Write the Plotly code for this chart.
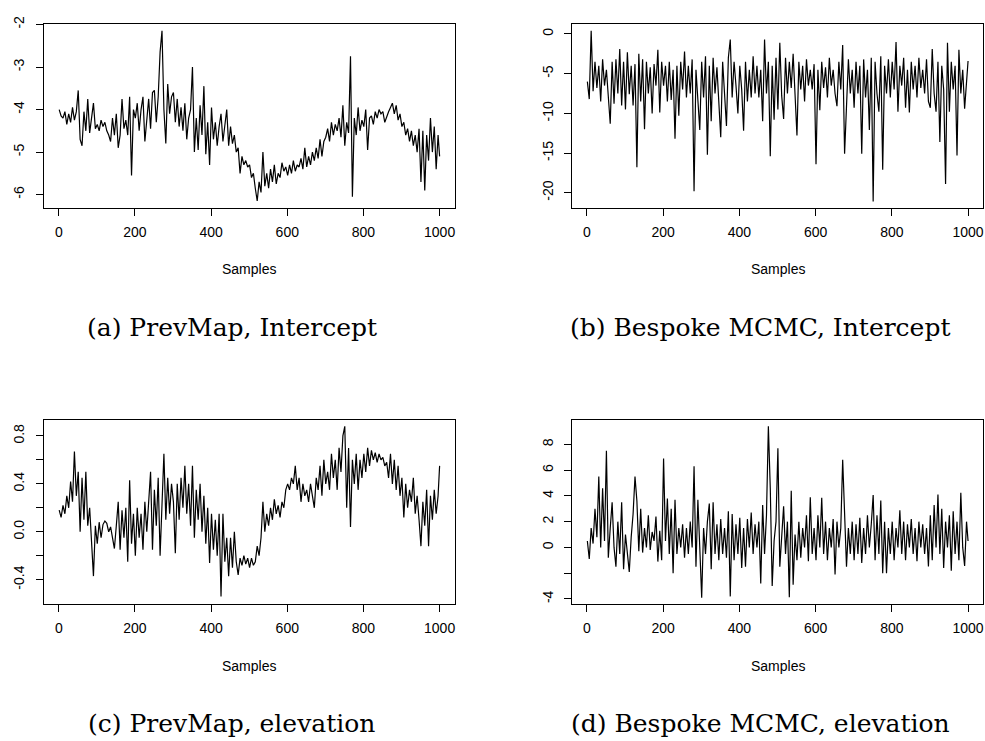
import plotly.graph_objects as go

# ---------------- data (every 5th sample) ----------------
sample_idx = list(range(1, 1000, 5)) + [1000]

prevmap_intercept = [
    -4.0, -4.15, -4.2, -4.05, -4.35, -4.1, -4.3, -3.95, -4.25, -4.05,
    -3.55, -4.7, -4.85, -4.05, -4.5, -3.75, -4.55, -4.2, -3.85, -4.45,
    -4.35, -4.5, -4.25, -4.4, -4.3, -4.5, -4.6, -4.75, -4.2, -4.6,
    -4.1, -4.9, -4.6, -3.75, -4.45, -4.25, -4.6, -3.7, -5.55, -4.0,
    -4.2, -3.85, -4.5, -4.0, -3.7, -4.75, -4.15, -3.75, -4.45, -3.6,
    -3.55, -4.3, -3.7, -2.65, -2.15, -4.0, -4.8, -3.4, -4.1, -3.7,
    -3.6, -4.3, -3.75, -4.4, -3.95, -4.5, -3.85, -4.7, -4.2, -4.0,
    -3.0, -5.0, -4.2, -4.95, -3.9, -4.6, -3.45, -5.05, -4.3, -5.3,
    -3.95, -4.7, -4.3, -4.85, -4.4, -4.1, -4.75, -4.4, -4.0, -4.85,
    -4.4, -4.8, -4.6, -5.0, -4.9, -5.5, -5.1, -5.3, -5.2, -5.35,
    -5.3, -5.6, -5.5, -5.85, -6.15, -5.7, -5.95, -5.0, -5.8, -5.5,
    -5.85, -5.4, -5.7, -5.3, -5.75, -5.5, -5.6, -5.25, -5.45, -5.35,
    -5.55, -5.3, -5.5, -5.2, -5.45, -5.3, -5.35, -5.15, -5.4, -4.9,
    -5.35, -5.1, -5.3, -5.0, -5.2, -4.9, -5.15, -4.7, -5.1, -4.75,
    -4.65, -4.45, -4.75, -4.3, -4.6, -4.35, -4.5, -4.2, -4.65, -3.9,
    -4.85, -4.3, -4.55, -2.75, -6.05, -4.2, -4.6, -3.95, -4.5, -4.25,
    -4.4, -4.0, -4.95, -4.2, -4.15, -4.35, -4.05, -4.2, -4.0, -4.1,
    -4.05, -4.3, -4.15, -4.05, -3.95, -3.85, -4.1, -3.9, -4.25, -4.1,
    -4.4, -4.3, -4.6, -4.45, -4.75, -4.5, -4.85, -4.6, -5.0, -4.45,
    -5.7, -4.5, -5.9, -4.6, -5.2, -4.2, -5.0, -4.4, -5.4, -4.6,
    -5.1,
]

bespoke_intercept = [
    -6.0, -8.2, 0.4, -7.2, -3.5, -6.8, -4.0, -8.5, -3.2, -6.5,
    -4.5, -7.8, -11.3, -3.5, -8.8, -3.2, -7.5, -1.9, -9.0, -3.5,
    -9.5, -2.3, -7.6, -4.0, -9.0, -3.8, -16.8, -2.5, -8.5, -3.2,
    -12.0, -3.5, -7.5, -4.2, -10.0, -3.8, -6.5, -2.0, -9.9, -3.5,
    -6.5, -4.0, -8.5, -3.5, -8.3, -4.5, -13.2, -4.0, -10.3, -3.5,
    -7.0, -2.2, -8.0, -4.0, -7.5, -3.2, -19.8, -4.5, -9.0, -12.1,
    -3.5, -8.0, -2.8, -15.2, -4.0, -11.0, -3.0, -7.5, -4.2, -9.0,
    -13.0, -3.5, -7.0, -11.6, -3.0, -0.7, -8.0, -3.5, -6.5, -10.0,
    -4.0, -7.0, -12.2, -3.5, -8.5, -4.5, -8.0, -2.8, -7.5, -4.0,
    -8.0, -4.5, -11.0, -0.7, -7.5, -3.5, -15.4, -4.0, -10.8, -3.0,
    -9.5, -1.1, -7.8, -10.7, -3.0, -7.5, -3.5, -6.8, -2.5, -8.0,
    -12.8, -3.5, -7.0, -4.0, -8.5, -3.2, -6.5, -4.5, -7.0, -3.8,
    -16.4, -4.5, -9.6, -3.5, -6.8, -4.2, -8.0, -3.0, -6.5, -4.5,
    -7.5, -9.1, -3.5, -7.0, -1.4, -15.1, -9.5, -3.2, -7.5, -4.5,
    -9.3, -3.5, -7.5, -4.0, -15.1, -3.2, -8.0, -4.5, -12.1, -3.0,
    -21.1, -3.5, -7.5, -9.8, -2.8, -17.1, -4.0, -7.5, -3.2, -8.0,
    -3.5, -7.0, -1.0, -9.8, -4.0, -6.5, -3.0, -9.3, -4.5, -9.9,
    -3.5, -7.0, -4.0, -8.0, -3.0, -6.8, -4.5, -7.5, -3.2, -8.5,
    -9.3, -1.9, -7.5, -9.8, -3.5, -13.6, -4.0, -7.0, -18.9, -1.1,
    -9.8, -3.5, -7.0, -4.0, -15.3, -2.0, -7.5, -4.5, -9.4, -6.0,
    -3.4,
]

prevmap_elevation = [
    0.18, 0.12, 0.22, 0.15, 0.3, 0.2, 0.42, 0.25, 0.67, 0.3,
    0.5, 0.0, 0.45, 0.1, 0.5, 0.05, 0.2, -0.08, -0.37, 0.05,
    -0.1, 0.08, -0.05, 0.06, 0.09, 0.07, 0.0, 0.04, -0.05, -0.14,
    0.05, 0.25, -0.15, 0.18, -0.05, 0.2, -0.25, 0.43, -0.1, 0.15,
    -0.2, 0.2, -0.05, 0.15, -0.15, 0.25, 0.0, 0.3, 0.5, -0.15,
    0.35, 0.05, 0.45, -0.2, 0.3, 0.65, 0.1, 0.45, 0.15, 0.4,
    0.25, -0.18, 0.4, 0.1, 0.45, 0.2, 0.55, 0.15, 0.4, 0.05,
    0.55, -0.05, 0.35, 0.1, 0.4, 0.0, 0.3, -0.1, 0.2, -0.26,
    0.15, -0.15, 0.1, -0.2, 0.15, -0.54, 0.15, -0.25, -0.05, -0.37,
    -0.05, -0.3, 0.0, -0.25, -0.36, -0.22, -0.28, -0.2, -0.27, -0.22,
    -0.3, -0.22, -0.28, -0.25, -0.12, -0.2, -0.05, 0.25, 0.0, 0.15,
    0.05, 0.2, 0.1, 0.27, 0.15, 0.22, 0.12, 0.25, 0.2, 0.35,
    0.4, 0.35, 0.45, 0.4, 0.55, 0.35, 0.45, 0.25, 0.4, 0.3,
    0.35, 0.25, 0.4, 0.3, 0.2, 0.45, 0.35, 0.55, 0.3, 0.6,
    0.4, 0.5, 0.35, 0.65, 0.45, 0.6, 0.35, 0.7, 0.5, 0.8,
    0.88, 0.2, 0.7, 0.04, 0.6, 0.4, 0.65, 0.35, 0.6, 0.45,
    0.65, 0.5, 0.7, 0.55, 0.68, 0.6, 0.66, 0.58, 0.65, 0.6,
    0.62, 0.55, 0.58, 0.45, 0.65, 0.4, 0.6, 0.35, 0.55, 0.3,
    0.45, 0.12, 0.4, 0.2, 0.35, 0.25, 0.45, 0.15, 0.3, 0.1,
    -0.12, 0.25, 0.05, 0.35, -0.12, 0.3, 0.1, 0.35, 0.15, 0.3,
    0.55,
]

bespoke_elevation = [
    0.5, -0.9, 1.5, 0.3, 3.0, 0.8, 5.5, 0.0, 4.6, 0.5,
    7.5, -0.8, 1.5, 3.5, 0.0, -1.5, 2.0, -0.5, 3.5, -1.7,
    1.0, -0.3, -1.9, 0.8, 2.6, 5.5, 3.6, -0.3, 3.0, -0.4,
    1.5, 0.0, 2.5, -0.2, 1.2, 0.5, 2.4, -1.1, 1.3, -1.0,
    6.9, 0.5, 3.8, -0.5, 3.0, -2.0, 3.7, -0.5, 1.5, 0.0,
    1.8, -0.8, 1.5, -0.5, 2.0, 0.0, 6.3, -1.5, 3.7, 0.0,
    -3.9, 1.5, -0.5, 2.0, 3.4, -1.7, 3.5, -0.5, 1.8, -1.0,
    2.2, -0.5, 1.5, -0.8, 2.8, -3.8, 2.6, -1.0, 1.8, -0.5,
    2.3, -1.6, 1.5, -1.5, 2.2, 0.0, 2.7, -0.5, 1.8, 0.0,
    2.0, -2.8, 3.3, -0.5, 2.5, 9.4, 4.6, -3.0, 0.5, 2.0,
    7.7, -1.5, 1.0, 3.2, -0.5, 2.0, -3.86, 4.4, -2.9, 1.0,
    -1.0, 2.0, -0.8, 1.5, 0.0, 2.5, -1.08, 3.9, -0.5, 1.5,
    -1.0, 2.5, 0.0, 3.86, -0.5, 2.0, -1.0, 1.5, 0.0, 2.2,
    -2.1, 2.0, 0.0, 1.5, 6.8, 2.2, -1.5, 1.5, -0.5, 2.0,
    -1.0, 1.8, -0.5, 2.3, -1.2, 1.5, -0.5, 2.5, 0.0, 1.8,
    4.06, -1.0, 2.5, -0.5, 3.65, -2.0, 2.0, -2.0, 1.5, -0.5,
    2.0, -1.0, 1.5, 0.0, 2.88, -0.5, 2.0, -1.0, 1.8, 0.0,
    2.2, -0.5, 1.5, -1.08, 2.0, 0.0, 1.8, -0.5, 1.5, -1.47,
    2.5, -1.0, 3.3, 0.0, 4.1, -0.5, 3.0, -1.6, 2.0, 0.0,
    2.5, -1.8, 2.8, -0.5, 2.0, -1.0, 4.24, 0.0, -1.44, 2.0,
    0.5,
]

x_ticks = [0, 200, 400, 600, 800, 1000]
a_ticks = [-6, -5, -4, -3, -2]
a_labels = ["-6", "-5", "-4", "-3", "-2"]
b_ticks = [-20, -15, -10, -5, 0]
b_labels = ["-20", "-15", "-10", "-5", "0"]
c_ticks = [-0.4, -0.2, 0.0, 0.2, 0.4, 0.6, 0.8]
c_labels = ["-0.4", "", "0.0", "", "0.4", "", "0.8"]
d_ticks = [-4, -2, 0, 2, 4, 6, 8]
d_labels = ["-4", "", "0", "2", "4", "6", "8"]

captions = ["(a) PrevMap, Intercept", "(b) Bespoke MCMC, Intercept",
            "(c) PrevMap, elevation", "(d) Bespoke MCMC, elevation"]
x_label = "Samples"

# ---------------- figure ----------------
W, H = 985, 741
fig = go.Figure()

panels = [
    dict(y=prevmap_intercept, yr=[-6.31, -1.985], tv=a_ticks, tt=a_labels,
         xpx=(44, 455.3), ypx=(16, 202)),
    dict(y=bespoke_intercept, yr=[-21.9, 1.28], tv=b_ticks, tt=b_labels,
         xpx=(572.7, 984.3), ypx=(16, 202)),
    dict(y=prevmap_elevation, yr=[-0.607, 0.937], tv=c_ticks, tt=c_labels,
         xpx=(44, 455.3), ypx=(416, 603)),
    dict(y=bespoke_elevation, yr=[-4.43, 9.93], tv=d_ticks, tt=d_labels,
         xpx=(572.7, 984.3), ypx=(416, 603)),
]

tick_font = dict(family="Liberation Sans, Arial, sans-serif", size=14, color="black")
annotations = []
for i, p in enumerate(panels):
    n = "" if i == 0 else str(i + 1)
    fig.add_trace(go.Scatter(
        x=sample_idx, y=p["y"], mode="lines",
        line=dict(color="black", width=1.2),
        xaxis="x" + n, yaxis="y" + n, showlegend=False, hoverinfo="skip"))
    xd = [p["xpx"][0] / W, min(p["xpx"][1] / W, 0.9995)]
    yd = [1 - p["ypx"][1] / H, 1 - p["ypx"][0] / H]
    fig.layout["xaxis" + n] = dict(
        domain=xd, range=[-39, 1040], anchor="y" + n,
        tickvals=x_ticks, ticktext=[str(v) for v in x_ticks],
        ticks="outside", ticklen=7, tickcolor="black", tickwidth=1,
        showline=True, linecolor="black", linewidth=1, mirror=True,
        showgrid=False, zeroline=False, tickfont=tick_font,
        ticklabelstandoff=4)
    fig.layout["yaxis" + n] = dict(
        domain=yd, range=p["yr"], anchor="x" + n,
        tickvals=p["tv"], ticktext=p["tt"], tickangle=-90,
        ticks="outside", ticklen=7, tickcolor="black", tickwidth=1,
        showline=True, linecolor="black", linewidth=1, mirror=True,
        showgrid=False, zeroline=False, tickfont=tick_font,
        ticklabelstandoff=6)
    # "Samples" label
    annotations.append(dict(
        text=x_label, x=(xd[0] + xd[1]) / 2, xref="paper",
        y=1 - (p["ypx"][1] + 62) / H, yref="paper",
        xanchor="center", yanchor="middle", showarrow=False,
        font=dict(family="Liberation Sans, Arial, sans-serif", size=14, color="black")))
    # caption
    cap_x = 232 if i % 2 == 0 else 761
    cap_y = 323 if i < 2 else 723
    annotations.append(dict(
        text=captions[i], x=cap_x / W, xref="paper", y=1 - cap_y / H, yref="paper",
        xanchor="center", yanchor="middle", showarrow=False,
        font=dict(family="DejaVu Serif, serif", size=25, color="black")))

fig.update_layout(
    width=W, height=H, margin=dict(l=0, r=0, t=0, b=0),
    paper_bgcolor="white", plot_bgcolor="white",
    annotations=annotations, showlegend=False)

fig.write_html(
    "out.html",
    config={"displayModeBar": False},
    post_script="document.body.style.margin='0px';document.body.style.overflow='hidden';")
